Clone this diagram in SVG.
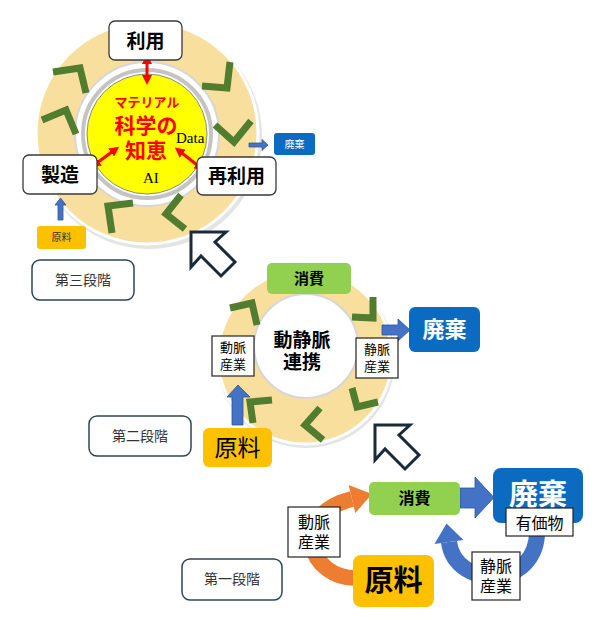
<svg xmlns="http://www.w3.org/2000/svg" width="597" height="619" viewBox="0 0 597 619">
<defs>
<style>
.jp{font-family:"Noto Sans CJK JP","Noto Sans",sans-serif;}
.b{font-weight:bold;}
.ring{fill:#F8DF9E;stroke:#ffffff;stroke-width:3;}
.shadow{fill:#d9d9d9;opacity:0.7;}
.hole{fill:#ffffff;stroke:#d6d6d6;stroke-width:2;}
.chev{fill:none;stroke:#507D2E;stroke-width:7;stroke-linejoin:miter;stroke-linecap:butt;}
.wbox{fill:#ffffff;stroke:#3a3a3a;stroke-width:1.3;}
.sq{fill:#ffffff;stroke:#222;stroke-width:1.2;}
.green{fill:#92D050;}
.blue{fill:#0B6BC0;}
.gold{fill:#FFC000;}
.barrow{fill:#4472C4;stroke:#2F5597;stroke-width:0.8;}
.stage{fill:#ffffff;stroke:#2E4556;stroke-width:1.5;}
.hollow{fill:#ffffff;stroke:#1B2A38;stroke-width:3;stroke-linejoin:miter;}
.red{stroke:#FF0000;stroke-width:3;fill:none;marker-start:url(#rh);marker-end:url(#rh);}
</style>
<marker id="rh" viewBox="0 0 10 10" refX="6" refY="5" markerWidth="10" markerHeight="10" markerUnits="userSpaceOnUse" orient="auto-start-reverse">
<path d="M0,0 L10,5 L0,10 z" fill="#FF0000"/>
</marker>
<polygon id="hollowArrow" points="0,0 35,0 24,10 44,30 30,44 10,24 0,35"/>
</defs>

<!-- Stage 3 ring -->
<g id="ring3">
<circle cx="149" cy="136" r="113" class="shadow"/>
<circle cx="147" cy="133" r="111" class="ring"/>
<circle cx="147" cy="134" r="72" class="hole"/>
<circle cx="147" cy="134" r="64" fill="#ffffff" stroke="#c4c4c4" stroke-width="4"/>
<circle cx="147" cy="134" r="60" fill="#FFFF00" stroke="#8a8a8a" stroke-width="1"/>
<polyline class="chev" points="53,72 80,68 86,93"/>
<polyline class="chev" points="42,120 66,110 76,134"/>
<polyline class="chev" points="202,86 227,88 230,62"/>
<polyline class="chev" points="215,125 234,142 251,121"/>
<polyline class="chev" points="185,229 166,214 181,195"/>
<polyline class="chev" points="133,203 108,206 112,233"/>
</g>

<!-- Stage 2 ring -->
<g id="ring2">
<circle cx="306" cy="359" r="89" class="shadow"/>
<circle cx="305" cy="357" r="87" class="ring"/>
<circle cx="306" cy="346" r="52" class="hole"/>
<polyline class="chev" points="230,308 252,303 257,325"/>
<polyline class="chev" points="373,297 373,318 352,317"/>
<polyline class="chev" points="352,388 357,407 378,402"/>
<polyline class="chev" points="320,408 305,425 323,440"/>
<polyline class="chev" points="272,400 250,402 253,423"/>
</g>

<!-- connectors -->
<g id="connectors">
<line class="red" x1="147" y1="58" x2="147" y2="81"/>
<line class="red" x1="94" y1="165" x2="116" y2="149"/>
<line class="red" x1="178" y1="150" x2="201" y2="168"/>
<polygon class="barrow" points="249,143 262,143 262,139.5 268,145 262,150.5 262,147 249,147"/>
<polygon class="barrow" points="58,220 58,205 55,205 60.5,198 66,205 63,205 63,220"/>
<polygon class="barrow" points="382,325 398,325 398,319 410,330 398,341 398,335 382,335"/>
<polygon class="barrow" points="232,425 232,397 227,397 238,385 250,397 243,397 243,425"/>
<use href="#hollowArrow" class="hollow" transform="translate(191,232)"/>
<use href="#hollowArrow" class="hollow" transform="translate(375,425)"/>
<path d="M358,578 C308,580 288,515 352,499" fill="none" stroke="#ED7D31" stroke-width="16"/>
<polygon points="348.7,485 372,494 355.3,513" fill="#ED7D31"/>
<path d="M537,528 C540,590 455,590 449,542" fill="none" stroke="#4472C4" stroke-width="16"/>
<polygon points="434.5,544 446.5,523.5 463.5,540" fill="#4472C4"/>
<polygon class="barrow" points="460,488 475,488 475,477 494,497.5 475,518 475,508 460,508"/>
</g>

<!-- Stage 3 nodes -->
<g id="riyou">
<rect x="109" y="21" width="73" height="39" rx="6" class="wbox"/>
<text x="145.5" y="48" text-anchor="middle" class="jp b" font-size="19">利用</text>
</g>
<g id="seizou">
<rect x="23" y="155" width="74" height="39" rx="6" class="wbox"/>
<text x="60" y="182" text-anchor="middle" class="jp b" font-size="19">製造</text>
</g>
<g id="sairiyou">
<rect x="197" y="157" width="79" height="38" rx="6" class="wbox"/>
<text x="236.5" y="183" text-anchor="middle" class="jp b" font-size="19">再利用</text>
</g>
<g id="chie">
<text x="147" y="107" text-anchor="middle" class="jp b" font-size="13" fill="#FF0000">マテリアル</text>
<text text-anchor="middle" class="jp b" font-size="21" fill="#FF0000"><tspan x="146" y="133">科学の</tspan><tspan x="146" y="158">知恵</tspan></text>
<text x="176" y="143" font-family="Liberation Serif,serif" font-size="15">Data</text>
<text x="143" y="183" font-family="Liberation Serif,serif" font-size="15">AI</text>
</g>
<g id="haiki3">
<rect x="274" y="133" width="41" height="22" rx="3" class="blue"/>
<text x="294.5" y="148" text-anchor="middle" class="jp" font-size="10" fill="#ffffff">廃棄</text>
</g>
<g id="genryou3">
<rect x="37" y="226" width="49" height="23" rx="3" class="gold"/>
<text x="61.5" y="241" text-anchor="middle" class="jp" font-size="10" fill="#333">原料</text>
</g>
<g id="stage3">
<rect x="32" y="260" width="102" height="40" rx="8" class="stage"/>
<text x="83" y="285" text-anchor="middle" class="jp" font-size="14" fill="#333">第三段階</text>
</g>

<!-- Stage 2 nodes -->
<g id="shouhi2">
<rect x="267" y="263" width="84" height="31" rx="5" class="green"/>
<text x="309" y="284" text-anchor="middle" class="jp b" font-size="15">消費</text>
</g>
<g id="center2">
<text text-anchor="middle" class="jp b" font-size="19"><tspan x="302" y="347">動静脈</tspan><tspan x="302" y="369">連携</tspan></text>
</g>
<g id="doumyaku2">
<rect x="212" y="336" width="42" height="40" class="sq"/>
<text text-anchor="middle" class="jp" font-size="13"><tspan x="233" y="352">動脈</tspan><tspan x="233" y="369">産業</tspan></text>
</g>
<g id="joumyaku2">
<rect x="356" y="338" width="42" height="40" class="sq"/>
<text text-anchor="middle" class="jp" font-size="13"><tspan x="377" y="354">静脈</tspan><tspan x="377" y="371">産業</tspan></text>
</g>
<g id="haiki2">
<rect x="409" y="307" width="71" height="45" rx="6" class="blue"/>
<text x="444.5" y="337" text-anchor="middle" class="jp b" font-size="22" fill="#ffffff">廃棄</text>
</g>
<g id="genryou2">
<rect x="203" y="428" width="69" height="39" rx="6" class="gold"/>
<text x="237.5" y="456" text-anchor="middle" class="jp" font-size="23">原料</text>
</g>
<g id="stage2">
<rect x="89" y="416" width="102" height="40" rx="8" class="stage"/>
<text x="140" y="441" text-anchor="middle" class="jp" font-size="14" fill="#333">第二段階</text>
</g>

<!-- Stage 1 nodes -->
<g id="shouhi1">
<rect x="369" y="482" width="91" height="33" rx="5" class="green"/>
<text x="414.5" y="504" text-anchor="middle" class="jp b" font-size="16">消費</text>
</g>
<g id="haiki1">
<rect x="493" y="468" width="90" height="55" rx="8" class="blue"/>
<text x="538" y="505" text-anchor="middle" class="jp b" font-size="29" fill="#ffffff">廃棄</text>
</g>
<g id="yuukabutsu">
<rect x="506" y="508" width="67" height="28" class="sq"/>
<text x="539.5" y="529" text-anchor="middle" class="jp" font-size="16">有価物</text>
</g>
<g id="joumyaku1">
<rect x="472" y="552" width="48" height="48" class="sq"/>
<text text-anchor="middle" class="jp" font-size="16"><tspan x="496" y="572">静脈</tspan><tspan x="496" y="592">産業</tspan></text>
</g>
<g id="doumyaku1">
<rect x="288" y="507" width="52" height="50" class="sq"/>
<text text-anchor="middle" class="jp" font-size="16"><tspan x="314" y="528">動脈</tspan><tspan x="314" y="548">産業</tspan></text>
</g>
<g id="genryou1">
<rect x="353" y="555" width="81" height="52" rx="8" class="gold"/>
<text x="393.5" y="591" text-anchor="middle" class="jp b" font-size="29">原料</text>
</g>
<g id="stage1">
<rect x="182" y="559" width="100" height="41" rx="8" class="stage"/>
<text x="232" y="584" text-anchor="middle" class="jp" font-size="14" fill="#333">第一段階</text>
</g>
</svg>
